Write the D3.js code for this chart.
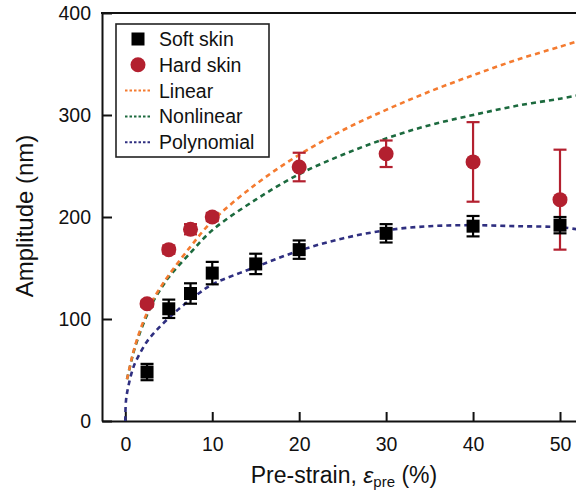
<!DOCTYPE html>
<html>
<head>
<meta charset="utf-8">
<script src="https://cdn.jsdelivr.net/npm/d3@7"></script>
<style>
  body { margin: 0; background: #fff; }
  text { font-family: "Liberation Sans", Arial, sans-serif; fill: #111; }
</style>
</head>
<body>
<div id="chart"></div>
<script>
// measured points
const softX = [2.5, 5, 7.5, 10, 15, 20, 30, 40, 50];
const softY = [48, 110, 125, 145, 154, 168, 184, 191, 192];
const softErr = [8, 9, 10, 11, 10, 9, 9, 10, 8];

const hardX = [2.5, 5, 7.5, 10, 20, 30, 40, 50];
const hardY = [115, 168, 188, 200, 249, 262, 254, 217];
const hardErr = [3, 4, 5, 4, 14, 13, 39, 49];

// fitted curves
const linearX = [0.2, 0.7, 1, 1.7, 2.5, 3.2, 4.2, 5, 7.5, 10, 15, 20, 25, 30, 35, 40, 45, 50, 51.9];
const linearY = [41, 60, 70, 89, 106, 119, 133, 143, 171, 196, 232, 261, 285, 305, 323, 339, 354, 367, 372];
const nonlinearX = [0.2, 0.7, 1, 1.7, 2.5, 3.2, 4.2, 5, 7.5, 10, 15, 20, 25, 30, 35, 40, 45, 50, 51.9];
const nonlinearY = [41, 59, 69, 87, 104, 117, 131, 141, 165, 187, 217, 242, 261, 277, 290, 300, 309, 316, 319];
const polyX = [0, 0.08, 0.35, 0.9, 1.3, 2.5, 3.6, 5, 6.6, 8.6, 10, 15, 20, 25, 30, 35, 40, 45, 50, 51.9];
const polyY = [0, 20, 34, 52, 60, 78, 89, 101, 113, 126, 134, 151, 167, 179, 187, 191, 192, 191, 190, 188];

const xTicks = [0, 10, 20, 30, 40, 50];
const yTicks = [0, 100, 200, 300, 400];

const colors = { soft: '#000000', hard: '#b3202f', linear: '#f47b30', nonlinear: '#1c6a3e', poly: '#2f2f80' };

const W = 576, H = 494;
const mLeft = 102, mTop = 13, mBottom = 421, mRight = 576;

const svg = d3.select('#chart').append('svg').attr('width', W).attr('height', H);

const x = d3.scaleLinear().domain([-2.68, 51.84]).range([mLeft, mRight]);
const y = d3.scaleLinear().domain([0, 400]).range([mBottom, mTop]);

svg.append('clipPath').attr('id', 'plot')
  .append('rect').attr('x', mLeft).attr('y', mTop - 10).attr('width', mRight - mLeft).attr('height', mBottom - mTop + 10);

// axes
const xAxis = svg.append('g').attr('transform', `translate(0,${mBottom})`)
  .call(d3.axisBottom(x).tickValues(xTicks).tickSizeInner(-9).tickSizeOuter(0).tickPadding(16));
const yAxis = svg.append('g').attr('transform', `translate(${mLeft},0)`)
  .call(d3.axisLeft(y).tickValues(yTicks).tickSizeInner(-10).tickSizeOuter(0).tickPadding(11));
[xAxis, yAxis].forEach(a => {
  a.select('.domain').attr('stroke', '#111').attr('stroke-width', 2);
  a.selectAll('.tick line').attr('stroke', '#111').attr('stroke-width', 2);
  a.selectAll('.tick text').style('font-size', '19.5px').attr('fill', '#111');
});
svg.append('line').attr('x1', mLeft - 1).attr('x2', mRight).attr('y1', mTop).attr('y2', mTop)
  .attr('stroke', '#111').attr('stroke-width', 2);

// axis titles
svg.append('text').attr('transform', `translate(33,216) rotate(-90)`)
  .attr('text-anchor', 'middle').style('font-size', '24px').text('Amplitude (nm)');
const xt = svg.append('text').attr('x', 344).attr('y', 483).attr('text-anchor', 'middle').style('font-size', '23px');
xt.append('tspan').text('Pre-strain, ');
xt.append('tspan').style('font-style', 'italic').text('ε');
xt.append('tspan').attr('dy', 4).style('font-size', '15px').text('pre');
xt.append('tspan').attr('dy', -4).text(' (%)');

// curves
const plot = svg.append('g').attr('clip-path', 'url(#plot)');
const line = d3.line().curve(d3.curveCatmullRom.alpha(0.5)).x(d => x(d[0])).y(d => y(d[1]));
const curves = [
  { xs: polyX, ys: polyY, c: colors.poly },
  { xs: nonlinearX, ys: nonlinearY, c: colors.nonlinear },
  { xs: linearX, ys: linearY, c: colors.linear }
];
curves.forEach(cv => {
  plot.append('path').datum(cv.xs.map((v, i) => [v, cv.ys[i]]))
    .attr('d', line).attr('fill', 'none').attr('stroke', cv.c)
    .attr('stroke-width', 2.6).attr('stroke-dasharray', '5,4');
});

// error bars + markers
function errBars(xs, ys, es, col) {
  const g = plot.append('g').attr('stroke', col).attr('stroke-width', 2.2);
  xs.forEach((v, i) => {
    const cx = x(v), y1 = y(ys[i] + es[i]), y2 = y(ys[i] - es[i]);
    g.append('line').attr('x1', cx).attr('x2', cx).attr('y1', y1).attr('y2', y2);
    g.append('line').attr('x1', cx - 6.5).attr('x2', cx + 6.5).attr('y1', y1).attr('y2', y1);
    g.append('line').attr('x1', cx - 6.5).attr('x2', cx + 6.5).attr('y1', y2).attr('y2', y2);
  });
}
errBars(hardX, hardY, hardErr, colors.hard);
plot.selectAll('.hard').data(hardX).join('circle').attr('class', 'hard')
  .attr('cx', d => x(d)).attr('cy', (d, i) => y(hardY[i])).attr('r', 7.5).attr('fill', colors.hard);
errBars(softX, softY, softErr, colors.soft);
plot.selectAll('.soft').data(softX).join('rect').attr('class', 'soft')
  .attr('x', d => x(d) - 6.5).attr('y', (d, i) => y(softY[i]) - 6.5)
  .attr('width', 13).attr('height', 13).attr('fill', colors.soft);

// legend
const lg = svg.append('g');
lg.append('rect').attr('x', 116).attr('y', 24).attr('width', 153).attr('height', 133)
  .attr('fill', '#fff').attr('stroke', '#222').attr('stroke-width', 1.6);
const legendItems = [
  { label: 'Soft skin', type: 'square', c: colors.soft },
  { label: 'Hard skin', type: 'circle', c: colors.hard },
  { label: 'Linear', type: 'line', c: colors.linear },
  { label: 'Nonlinear', type: 'line', c: colors.nonlinear },
  { label: 'Polynomial', type: 'line', c: colors.poly }
];
legendItems.forEach((it, i) => {
  const cy = 39 + i * 25.8;
  if (it.type === 'square') {
    lg.append('rect').attr('x', 131.5).attr('y', cy - 6.5).attr('width', 13).attr('height', 13).attr('fill', it.c);
  } else if (it.type === 'circle') {
    lg.append('circle').attr('cx', 138).attr('cy', cy).attr('r', 7.5).attr('fill', it.c);
  } else {
    lg.append('line').attr('x1', 125).attr('x2', 151).attr('y1', cy).attr('y2', cy)
      .attr('stroke', it.c).attr('stroke-width', 2).attr('stroke-dasharray', '2.5,2');
  }
  lg.append('text').attr('x', 159).attr('y', cy + 7).style('font-size', '19.5px').text(it.label);
});
</script>
</body>
</html>
